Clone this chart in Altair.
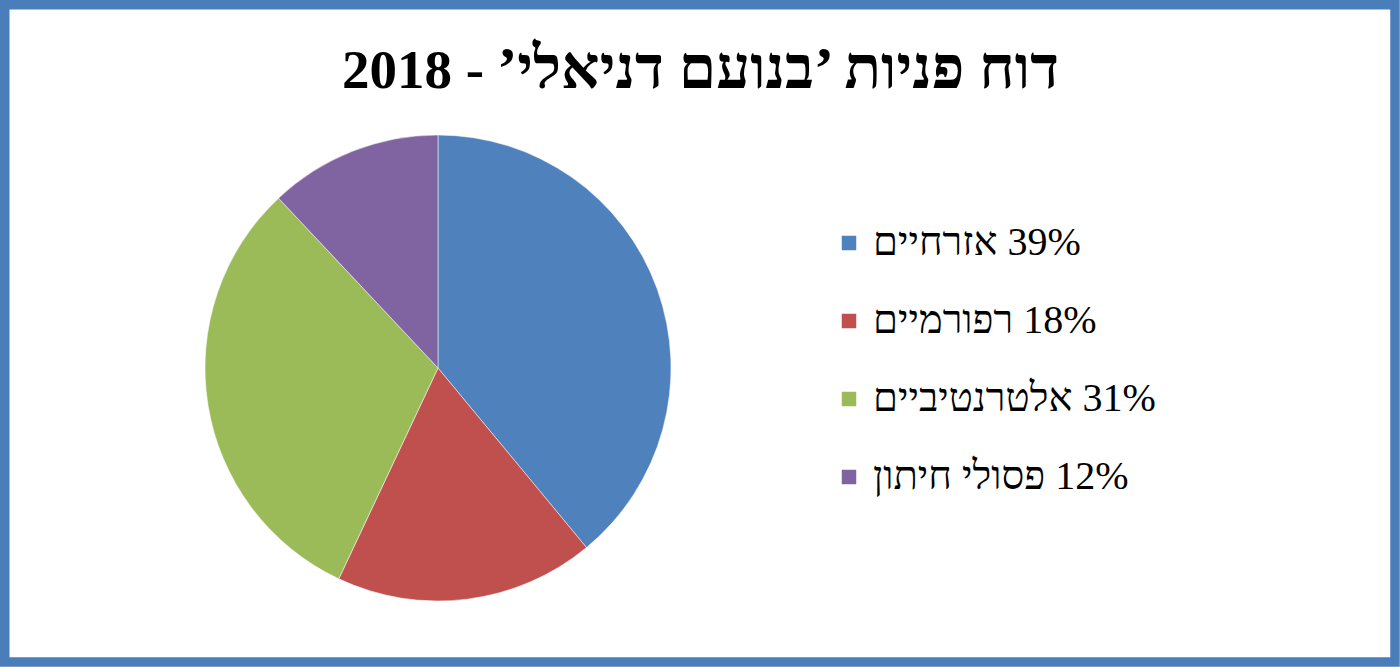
import altair as alt
import pandas as pd

categories = ["אזרחיים", "רפורמיים", "אלטרנטיביים", "פסולי חיתון"]
percents = [39, 18, 31, 12]
colors = ["#4F81BD", "#C0504D", "#9BBB59", "#8064A2"]
title_hebrew = "דוח פניות ’בנועם דניאלי’"
title_year = "2018 -"

LRM = "\u200e"
RLM = "\u200f"
labels = [f"{c}{LRM} {p}%" for c, p in zip(categories, percents)]
df = pd.DataFrame({"label": labels, "value": percents, "order": list(range(len(labels)))})

pie = alt.Chart(df).mark_arc(radius=233, stroke="white", strokeWidth=0.5).encode(
    theta=alt.Theta("value:Q", stack=True),
    order=alt.Order("order:Q"),
    x=alt.value(438),
    y=alt.value(368),
    color=alt.Color(
        "label:N",
        scale=alt.Scale(domain=labels, range=colors),
        sort=labels,
        legend=alt.Legend(
            title=None,
            orient="none",
            legendX=829,
            legendY=223,
            symbolType="square",
            symbolSize=210,
            symbolStrokeWidth=0,
            labelFont="Liberation Serif",
            labelFontSize=40,
            labelColor="#000000",
            labelOffset=4,
            rowPadding=38,
            labelLimit=500,
        ),
    ),
)

title_he = alt.Chart(pd.DataFrame({"t": [title_hebrew + RLM]})).mark_text(
    font="Liberation Serif", fontSize=60, fontWeight="bold", color="#000000",
    align="right", baseline="alphabetic",
).encode(text="t:N", x=alt.value(1059), y=alt.value(88))

title_yr = alt.Chart(pd.DataFrame({"t": [title_year]})).mark_text(
    font="Liberation Serif", fontSize=55, fontWeight="bold", color="#000000",
    align="left", baseline="alphabetic",
).encode(text="t:N", x=alt.value(342), y=alt.value(88))

border = alt.Chart(pd.DataFrame({"a": [0]})).mark_rect(
    fill=None, stroke="#4A7EBB", strokeWidth=9.5
).encode(x=alt.value(4.75), x2=alt.value(1395), y=alt.value(4.75), y2=alt.value(662))

chart = alt.layer(border, pie, title_he, title_yr).properties(
    width=1400, height=667, padding=0, autosize=alt.AutoSizeParams(type="none"),
    background="white",
).configure_view(stroke=None)

chart.save("out.html", embed_options={"renderer": "svg", "actions": False})
